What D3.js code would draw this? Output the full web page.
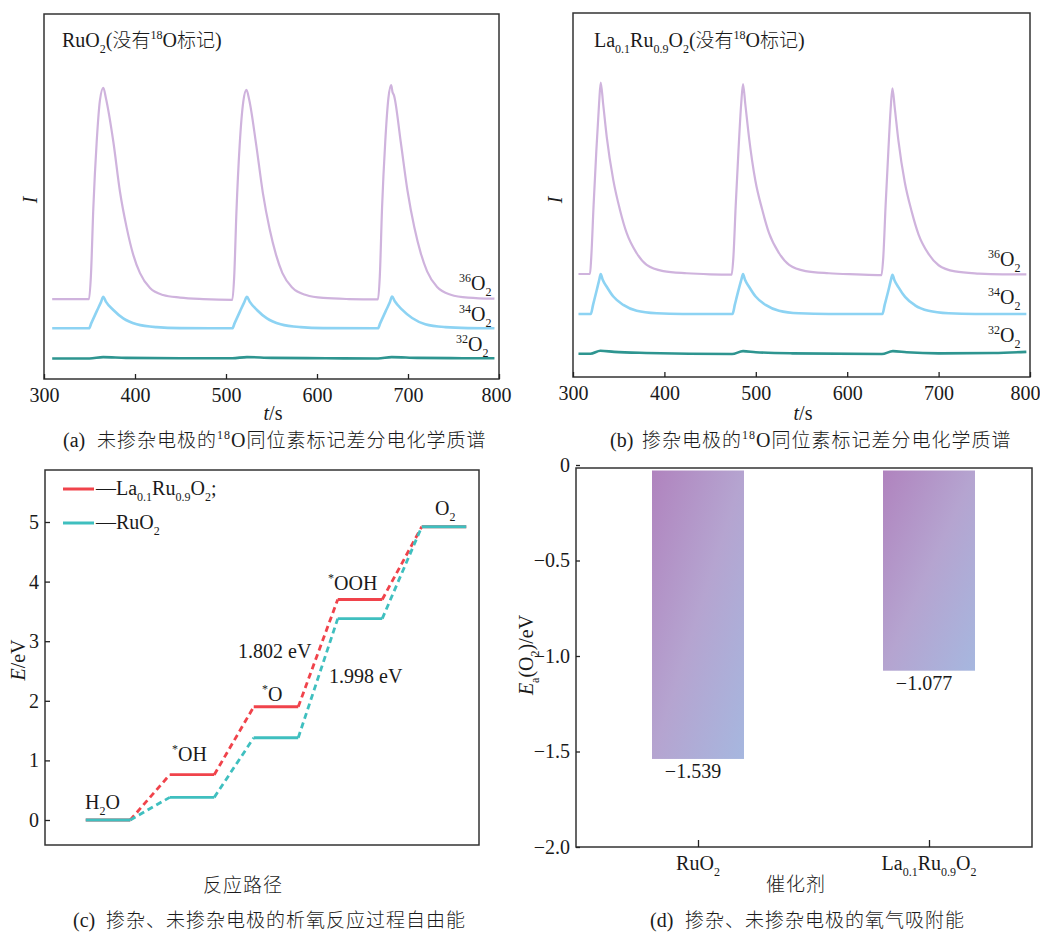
<!DOCTYPE html>
<html><head><meta charset="utf-8">
<script src="https://cdn.jsdelivr.net/npm/d3@7"></script>
<style>
body{margin:0;background:#fff;}
svg text, svg tspan{font-family:"Liberation Serif","Times New Roman",serif !important;fill:#1a1a1a;}
svg .cjk{font-family:"Noto Sans CJK SC","Noto Sans CJK JP",sans-serif !important;font-weight:300;}
</style></head><body>
<svg id="fig" width="1040" height="933"></svg>
<script>
// ---------- DATA ----------
const timeTicks = [300, 400, 500, 600, 700, 800];
// panel (a) RuO2 — [t (s), I (arb.)]
const aO36 = [[309,21.9],[349.5,21.9],[351.6,28.5],[354.2,46.8],[357.9,65],[361.5,76.4],[365.2,79.8],[368,77],[376.2,65],[383.5,51.3],[390.9,41.4],[398.1,34.0],[405.5,29.0],[416.5,24.9],[430.8,23.0],[449.5,22.3],[475,21.9],[507,21.7],
  [509,28],[511.5,46],[515,64],[519,76],[522.5,79.2],[525.5,76.5],[533,64.5],[540.5,51],[548,41],[555,34],[562,29],[573,25],[588,23],[607,22.2],[635,21.9],[667,21.8],
  [669,28],[671.5,47],[675,65],[678.5,77],[681.5,80.5],[683,78.6],[684.5,77.8],[692,65],[699.5,51.5],[707,41.5],[714,34.5],[721,29.5],[732,25.2],[747,23.1],[766,22.3],[795,22.0]];
const aO34 = [[309,13.9],[349.5,13.9],[352,15.3],[358,18.6],[362.5,21.0],[365.2,22.5],[368,21.2],[376.2,18.9],[387.1,16.6],[401.9,15.0],[423.8,14.2],[449.5,13.95],[507,13.9],
  [509.5,15.3],[515.5,18.6],[520,21.0],[523,22.5],[526,21.2],[534,18.9],[545,16.6],[560,15.0],[582,14.2],[607,13.95],[667,13.9],
  [669.5,15.3],[675.5,18.6],[680,21.0],[682.5,22.6],[685.5,21.3],[693.5,19.0],[704.5,16.7],[719,15.0],[741,14.2],[766,13.95],[795,13.9]];
const aO32 = [[309,5.6],[350,5.6],[365,6.0],[390,5.8],[450,5.7],[507,5.7],[523,6.0],[550,5.8],[610,5.7],[667,5.6],[682,6.0],[710,5.8],[760,5.7],[795,5.7]];
// panel (b) La0.1Ru0.9O2
const bO36 = [[306,28.3],[318.6,28.3],[320,33],[322.5,47],[325.5,62],[328.5,75],[330.3,80.9],[333,75],[336.9,66.0],[344.1,54.1],[351.4,45.9],[358.8,39.5],[369.7,34.0],[380.6,30.8],[398.8,29.1],[424.4,28.5],[450,28.2],[473.6,28.1],
  [475.5,33],[478,47],[481,62],[484,75],[486,80.5],[488.5,75],[492.5,66],[499.5,54],[507,46],[514.5,39.5],[525.5,34],[536.5,30.8],[554.5,29.1],[580,28.5],[610,28.2],[637.5,28.0],
  [639.5,33],[642,47],[645,62],[647.5,73.5],[649.5,79.3],[652,74],[656,65],[663,53.5],[670.5,45.5],[678,39.2],[689,33.8],[700,30.7],[718,29.0],[744,28.4],[770,28.2],[796,28.2]];
const bO34 = [[306,17.3],[319.4,17.3],[322,19.9],[326,23.9],[328.8,26.8],[330.3,28.3],[332.5,26.7],[336.9,24.8],[344.1,22.1],[355,19.8],[369.7,18.2],[391.6,17.5],[420,17.3],[474.5,17.3],
  [477,19.8],[481,23.8],[484.5,27.0],[486,28.3],[488.2,26.7],[492.6,24.8],[499.8,22.1],[510.7,19.8],[525.4,18.2],[547.3,17.5],[580,17.3],[638.5,17.3],
  [641,19.8],[645,23.7],[648,26.8],[649.5,28.1],[651.7,26.6],[656,24.7],[663.3,22.0],[674.2,19.7],[689,18.2],[711,17.5],[740,17.3],[796,17.3]];
const bO32 = [[306,6.4],[319,6.4],[330,7.2],[345,6.9],[380,6.6],[474,6.3],[486,7.1],[500,6.8],[540,6.5],[638,6.3],[650,7.1],[665,6.8],[700,6.5],[760,6.6],[796,6.9]];
// panel (c) free energy
const steps = ["H2O", "*OH", "*O", "*OOH", "O2"];
const energyLa = [0, 0.76, 1.90, 3.70, 4.92];
const energyRu = [0, 0.38, 1.38, 3.378, 4.92];
const energyTicks = [0, 1, 2, 3, 4, 5];
const gapLabels = ["1.802 eV", "1.998 eV"];
// panel (d) adsorption energy
const catalysts = ["RuO2", "La0.1Ru0.9O2"];
const adsorption = [-1.539, -1.077];
const adsTicks = [0, -0.5, -1.0, -1.5, -2.0];

// ---------- HELPERS ----------
const SERIF = '"Liberation Serif","Times New Roman",serif';
const FS = 20;
const svg = d3.select("#fig");
function rich(g, x, y, parts, size, anchor) {
  const t = g.append("text").attr("x", x).attr("y", y).attr("font-size", size)
    .attr("text-anchor", anchor || "start");
  let off = 0;
  parts.forEach(p => {
    const [s, m] = typeof p === "string" ? [p, "n"] : p;
    const target = m === "sub" ? size * 0.3 : m === "sup" ? -size * 0.38 : 0;
    const ts = t.append("tspan").text(s).attr("dy", target - off);
    off = target;
    if (m === "sub" || m === "sup") ts.attr("font-size", size * 0.6);
    if (m === "i") ts.attr("font-style", "italic");
    if (m === "cjk") ts.attr("class", "cjk").attr("font-size", size * 0.95);
  });
  return t;
}
function styleAxis(g, size) {
  g.attr("font-family", null).attr("font-size", null);
  g.select(".domain").remove();
  g.selectAll(".tick line").attr("stroke", "#222").attr("stroke-width", 1.3);
  g.selectAll(".tick text").attr("font-size", size).attr("fill", "#1a1a1a").style("font-family", SERIF);
}
const FRAME = "#333";
const C36 = "#cfb3dd", C34 = "#8dd3f3", C32 = "#2e9590";
const labelFor = {
  "36": [["36", "sup"], "O", ["2", "sub"]],
  "34": [["34", "sup"], "O", ["2", "sub"]],
  "32": [["32", "sup"], "O", ["2", "sub"]]
};

// ---------- PANELS (a) & (b) ----------
function msPanel(cfg) {
  const g = svg.append("g");
  const x = d3.scaleLinear([300, 800], [cfg.x0, cfg.x1]);
  const y = d3.scaleLinear([0, 100], [cfg.y1, cfg.y0]);
  const line = d3.line().x(d => x(d[0])).y(d => y(d[1])).curve(d3.curveMonotoneX);
  [[cfg.s32, C32, 2.6], [cfg.s34, C34, 2.6], [cfg.s36, C36, 2.2]].forEach(([s, c, w]) => {
    g.append("path").datum(s).attr("d", line).attr("fill", "none").attr("stroke", c)
      .attr("stroke-width", w).attr("stroke-linejoin", "round");
  });
  g.append("rect").attr("x", cfg.x0).attr("y", cfg.y0).attr("width", cfg.x1 - cfg.x0)
    .attr("height", cfg.y1 - cfg.y0).attr("fill", "none").attr("stroke", FRAME).attr("stroke-width", 1.5);
  const ax = g.append("g").attr("transform", `translate(0,${cfg.y1})`)
    .call(d3.axisBottom(x).tickValues(timeTicks).tickSizeInner(-5).tickSizeOuter(0).tickPadding(9));
  styleAxis(ax, FS);
  ax.selectAll(".tick text").filter(d => d === 800).attr("dx", cfg.lastDx);
  rich(g, (cfg.x0 + cfg.x1) / 2 + cfg.tOff, 420, [["t", "i"], "/s"], FS, "middle");
  const yl = g.append("g").attr("transform", `translate(${cfg.yLab},200) rotate(-90)`);
  rich(yl, 0, 0, [["I", "i"]], FS, "middle");
  rich(g, cfg.titleX, 47, cfg.title, FS);
  cfg.labels.forEach(([k, lx, ly]) => rich(g, lx, ly, labelFor[k], FS));
  g.append("text").attr("x", cfg.capX).attr("y", 447).attr("font-size", FS).text(cfg.capTag);
  rich(g, cfg.capX2, 447, cfg.caption, 20).attr("letter-spacing", 1).attr("fill", "#2a2a2a");
}
msPanel({
  x0: 44, x1: 499, y0: 14, y1: 379, s36: aO36, s34: aO34, s32: aO32, tOff: 1.5, yLab: 37, lastDx: -3,
  titleX: 62, title: ["RuO", ["2", "sub"], "(", ["没有", "cjk"], ["18", "sup"], "O", ["标记", "cjk"], ")"],
  labels: [["36", 459, 290], ["34", 459, 321], ["32", 456, 351]],
  capX: 63, capTag: "(a)", capX2: 97,
  caption: [["未掺杂电极的", "cjk"], ["18", "sup"], "O", ["同位素标记差分电化学质谱", "cjk"]]
});
msPanel({
  x0: 573, x1: 1030, y0: 13, y1: 377, s36: bO36, s34: bO34, s32: bO32, tOff: 1.5, yLab: 562, lastDx: -5,
  titleX: 594, title: ["La", ["0.1", "sub"], "Ru", ["0.9", "sub"], "O", ["2", "sub"], "(", ["没有", "cjk"], ["18", "sup"], "O", ["标记", "cjk"], ")"],
  labels: [["36", 988, 266], ["34", 988, 304], ["32", 988, 342]],
  capX: 610, capTag: "(b)", capX2: 642,
  caption: [["掺杂电极的", "cjk"], ["18", "sup"], "O", ["同位素标记差分电化学质谱", "cjk"]]
});

// ---------- PANEL (c) ----------
{
  const g = svg.append("g");
  const X0 = 45, X1 = 479, Y0 = 470, Y1 = 845;
  const x = d3.scaleLinear([0, steps.length - 1], [108, 444]);
  const y = d3.scaleLinear([0, 5], [820, 522]);
  const half = (x(1) - x(0)) * 0.265;
  [[energyLa, "#f0434b"], [energyRu, "#3fbfbf"]].forEach(([E, c]) => {
    g.selectAll(null).data(E.slice(0, -1)).join("line")
      .attr("x1", (d, i) => x(i) + half).attr("y1", d => y(d))
      .attr("x2", (d, i) => x(i + 1) - half).attr("y2", (d, i) => y(E[i + 1]))
      .attr("stroke", c).attr("stroke-width", 2.8).attr("stroke-dasharray", "6,4");
    g.selectAll(null).data(E).join("line")
      .attr("x1", (d, i) => x(i) - half).attr("x2", (d, i) => x(i) + half)
      .attr("y1", d => y(d)).attr("y2", d => y(d))
      .attr("stroke", c).attr("stroke-width", 2.8);
  });
  g.append("rect").attr("x", X0).attr("y", Y0).attr("width", X1 - X0).attr("height", Y1 - Y0)
    .attr("fill", "none").attr("stroke", FRAME).attr("stroke-width", 1.5);
  const ay = g.append("g").attr("transform", `translate(${X0},0)`)
    .call(d3.axisLeft(y).tickValues(energyTicks).tickFormat(d3.format("d"))
      .tickSizeInner(-5).tickSizeOuter(0).tickPadding(6));
  styleAxis(ay, FS);
  // legend
  [["#f0434b", 489, ["—La", ["0.1", "sub"], "Ru", ["0.9", "sub"], "O", ["2", "sub"], ";"], 495],
   ["#3fbfbf", 523, ["—RuO", ["2", "sub"]], 529]].forEach(([c, ly, parts, ty]) => {
    g.append("line").attr("x1", 63).attr("x2", 94).attr("y1", ly).attr("y2", ly)
      .attr("stroke", c).attr("stroke-width", 3);
    rich(g, 96, ty, parts, FS);
  });
  // level labels
  const stepLabels = [["H", ["2", "sub"], "O"], [["*", "sup"], "OH"], [["*", "sup"], "O"], [["*", "sup"], "OOH"], ["O", ["2", "sub"]]];
  const labelPos = [[85, 809], [172, 761], [262, 701], [328, 590], [435, 515]];
  stepLabels.forEach((p, i) => rich(g, labelPos[i][0], labelPos[i][1], p, FS));
  g.append("text").attr("x", 238).attr("y", 658).attr("font-size", FS).text(gapLabels[0]);
  g.append("text").attr("x", 329).attr("y", 683).attr("font-size", FS).text(gapLabels[1]);
  const yl = g.append("g").attr("transform", "translate(25,660) rotate(-90)");
  rich(yl, 0, 0, [["E", "i"], "/eV"], FS, "middle");
  g.append("text").attr("class", "cjk").attr("x", 243).attr("y", 892).attr("font-size", 19)
    .attr("text-anchor", "middle").attr("letter-spacing", 1).attr("fill", "#2a2a2a").text("反应路径");
  g.append("text").attr("x", 73).attr("y", 927).attr("font-size", FS).text("(c)");
  g.append("text").attr("class", "cjk").attr("x", 106).attr("y", 927).attr("font-size", 19)
    .attr("letter-spacing", 1).attr("fill", "#2a2a2a").text("掺杂、未掺杂电极的析氧反应过程自由能");
}

// ---------- PANEL (d) ----------
{
  const g = svg.append("g");
  const X0 = 576, X1 = 1032, Y0 = 468, Y1 = 847;
  const y = d3.scaleLinear([-2, 0], [847, 465]);
  const x = d3.scalePoint().domain(catalysts).range([698, 929]);
  const grad = svg.append("defs").append("linearGradient").attr("id", "barGrad")
    .attr("x1", 0).attr("y1", 0).attr("x2", 1).attr("y2", 1);
  grad.append("stop").attr("offset", 0).attr("stop-color", "#b083be");
  grad.append("stop").attr("offset", 0.5).attr("stop-color", "#b5a4d0");
  grad.append("stop").attr("offset", 1).attr("stop-color", "#a6b7df");
  const barTop = Math.max(y(0), Y0 + 2.5);
  g.selectAll("rect.bar").data(adsorption).join("rect").attr("class", "bar")
    .attr("x", (d, i) => x(catalysts[i]) - 46).attr("width", 92)
    .attr("y", barTop).attr("height", d => y(d) - barTop)
    .attr("fill", "url(#barGrad)");
  g.selectAll("text.val").data(adsorption).join("text").attr("class", "val")
    .attr("x", (d, i) => x(catalysts[i]) - 5).attr("y", d => y(d) + 19)
    .attr("text-anchor", "middle").attr("font-size", FS).text(d => d3.format(".3f")(d));
  g.append("rect").attr("x", X0).attr("y", Y0).attr("width", X1 - X0).attr("height", Y1 - Y0)
    .attr("fill", "none").attr("stroke", FRAME).attr("stroke-width", 1.5);
  const ay = g.append("g").attr("transform", `translate(${X0},0)`)
    .call(d3.axisLeft(y).tickValues(adsTicks).tickFormat(d => d === 0 ? "0" : d3.format(".1f")(d))
      .tickSizeInner(-4).tickSizeOuter(0).tickPadding(6));
  styleAxis(ay, FS);
  const ax = g.append("g").attr("transform", `translate(0,${Y1})`)
    .call(d3.axisBottom(x).tickSizeInner(-7).tickSizeOuter(0).tickFormat(""));
  styleAxis(ax, FS);
  const catLabels = [["RuO", ["2", "sub"]], ["La", ["0.1", "sub"], "Ru", ["0.9", "sub"], "O", ["2", "sub"]]];
  catalysts.forEach((c, i) => rich(g, x(c), 870, catLabels[i], FS, "middle"));
  const yl = g.append("g").attr("transform", "translate(533,655) rotate(-90)");
  rich(yl, 0, 0, [["E", "i"], ["a", "sub"], "(O", ["2", "sub"], ")/eV"], FS, "middle");
  g.append("text").attr("class", "cjk").attr("x", 796).attr("y", 891).attr("font-size", 19)
    .attr("text-anchor", "middle").attr("letter-spacing", 1).attr("fill", "#2a2a2a").text("催化剂");
  g.append("text").attr("x", 650).attr("y", 927).attr("font-size", FS).text("(d)");
  g.append("text").attr("class", "cjk").attr("x", 685).attr("y", 927).attr("font-size", 19)
    .attr("letter-spacing", 1).attr("fill", "#2a2a2a").text("掺杂、未掺杂电极的氧气吸附能");
}
</script>
</body></html>
